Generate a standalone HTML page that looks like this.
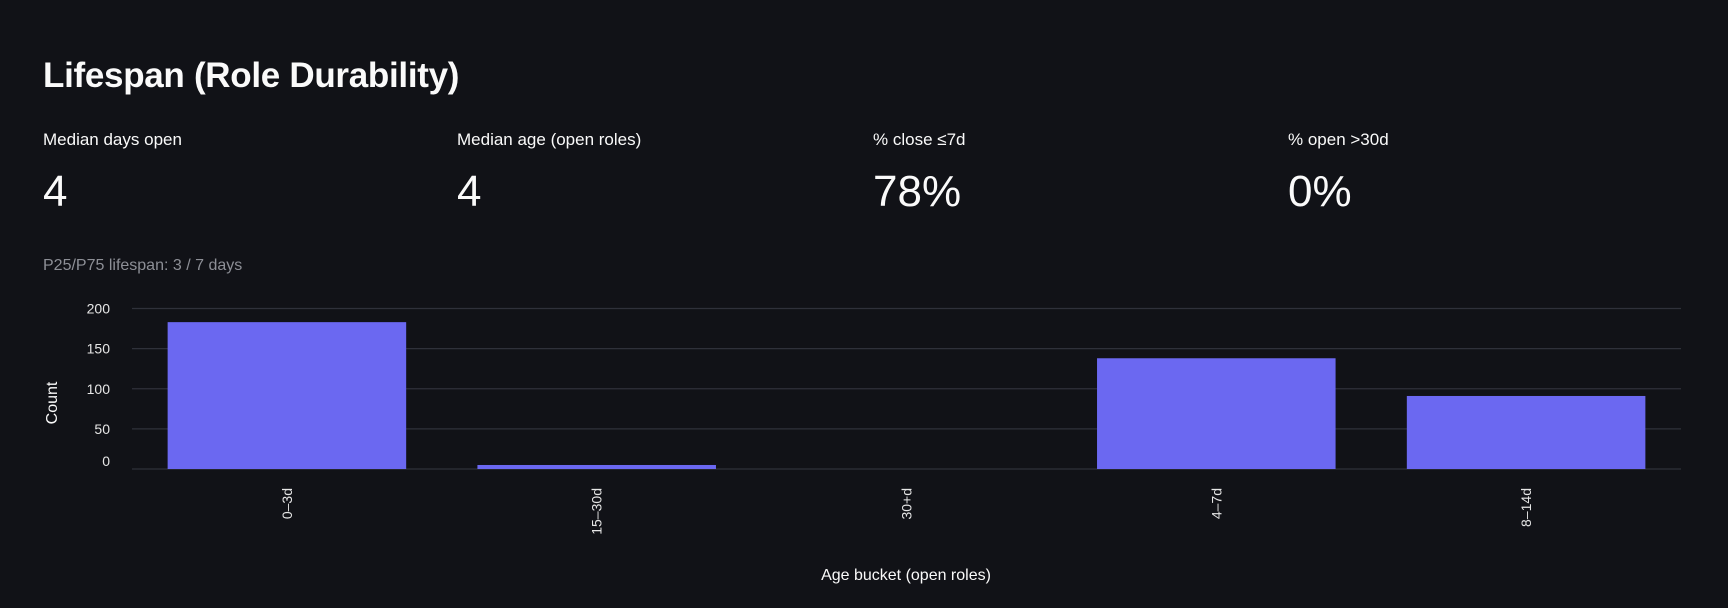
<!DOCTYPE html>
<html><head><meta charset="utf-8">
<style>
body{margin:0;width:1728px;height:608px;background:#111217;overflow:hidden;font-family:"Liberation Sans",sans-serif;color:#fafafa;position:relative}
.t{position:absolute;white-space:nowrap}
h1{position:absolute;left:43px;top:56px;margin:0;font-size:35px;font-weight:bold;letter-spacing:-0.3px}
.lab{font-size:17px;top:130px}
.val{font-size:44px;top:167px}
</style></head><body>
<h1>Lifespan (Role Durability)</h1>
<div class="t lab" style="left:43px">Median days open</div>
<div class="t val" style="left:43px">4</div>
<div class="t lab" style="left:457px">Median age (open roles)</div>
<div class="t val" style="left:457px">4</div>
<div class="t lab" style="left:873px">% close ≤7d</div>
<div class="t val" style="left:873px">78%</div>
<div class="t lab" style="left:1288px">% open &gt;30d</div>
<div class="t val" style="left:1288px">0%</div>
<div class="t" style="left:43px;top:257px;font-size:16px;color:#8d8f96">P25/P75 lifespan: 3 / 7 days</div>
<svg id="chart" width="1728" height="608" style="position:absolute;left:0;top:0"></svg>
<script>
const categories=["0–3d","15–30d","30+d","4–7d","8–14d"];
const counts=[183,5,0,138,91];
const yTicks=[0,50,100,150,200];
const NS="http://www.w3.org/2000/svg";
const svg=document.getElementById('chart');
const L=132,R=1681,Y0=469,Y200=308.5;
const y=v=>Y0-(v/200)*(Y0-Y200);
const bw=(R-L)/categories.length;
const x=i=>L+i*bw;
function mk(t,a){const e=document.createElementNS(NS,t);for(const k in a)e.setAttribute(k,a[k]);svg.appendChild(e);return e;}
yTicks.forEach(v=>{
  const g=mk('line',{x1:L,x2:R,y1:y(v),y2:y(v),stroke:'#2f313a','stroke-width':1.3});
  
  
  const t=mk('text',{x:110,y:v===0?y(v)-3:y(v)+5,'text-anchor':'end','font-size':14,fill:'#e6e6e6','font-family':'Liberation Sans, sans-serif'});
  t.textContent=v;
  
  
});
categories.forEach((c,i)=>{
  const pad=bw*0.115;
  const b=mk('rect',{x:x(i)+pad,y:y(counts[i]),width:bw-2*pad,height:Y0-y(counts[i]),fill:'#6b68f1'});
  
  
  const cx=x(i)+bw/2+5, ty=488;
  const t=mk('text',{x:cx,y:ty,'text-anchor':'end','font-size':14,fill:'#e6e6e6','font-family':'Liberation Sans, sans-serif',transform:`rotate(-90 ${cx} ${ty})`});
  t.textContent=c;
  
  
});
const yt=mk('text',{x:57,y:403,'text-anchor':'middle','font-size':16,fill:'#fafafa','font-family':'Liberation Sans, sans-serif',transform:'rotate(-90 57 403)'});
yt.textContent='Count';


const xt=mk('text',{x:906,y:580,'text-anchor':'middle','font-size':16,fill:'#fafafa','font-family':'Liberation Sans, sans-serif'});
xt.textContent='Age bucket (open roles)';


</script>
</body></html>
